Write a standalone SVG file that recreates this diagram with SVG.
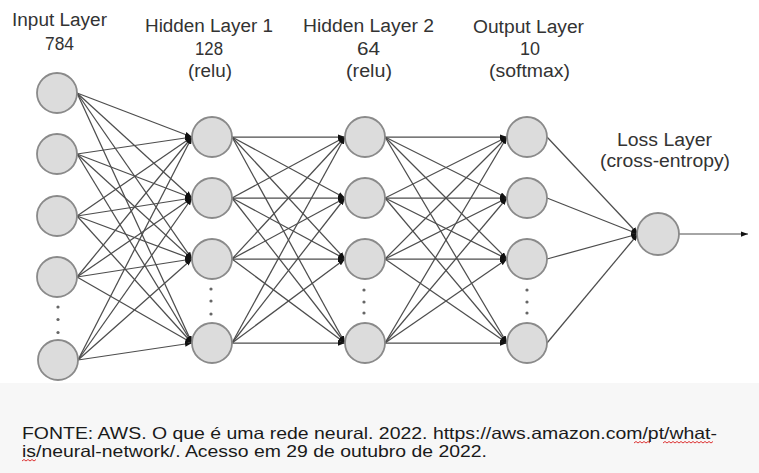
<svg xmlns="http://www.w3.org/2000/svg" width="759" height="473" viewBox="0 0 759 473">
<style>
.node{fill:#dcdcdc;stroke:#8a8a8a;stroke-width:1.8}
.edge{stroke:#4d4d4d;stroke-width:1.25;fill:none;marker-end:url(#ah)}
.lbl{font-family:"Liberation Sans",Arial,sans-serif;font-size:18px;fill:#333333;text-anchor:middle}
.dot{fill:#666}
.foot{font-family:"Liberation Sans",Arial,sans-serif;font-size:16.5px;fill:#1a1a1a}
.sq{fill:none;stroke:#d33;stroke-width:1}
</style>
<defs>
<marker id="ah" viewBox="0 0 8 6" refX="8" refY="3" markerWidth="7" markerHeight="5.5" markerUnits="userSpaceOnUse" orient="auto">
<path d="M0,0 L8,3 L0,6 z" fill="#111"/>
</marker>
</defs>
<rect x="0" y="0" width="759" height="473" fill="#ffffff"/>
<rect x="0" y="383" width="759" height="90" fill="#f7f7f7"/>

<g id="labels">
<text class="lbl" x="59.5" y="26" textLength="95" lengthAdjust="spacingAndGlyphs">Input Layer</text>
<text class="lbl" x="59.5" y="50" textLength="29" lengthAdjust="spacingAndGlyphs">784</text>
<text class="lbl" x="209" y="32" textLength="128" lengthAdjust="spacingAndGlyphs">Hidden Layer 1</text>
<text class="lbl" x="209" y="55" textLength="28" lengthAdjust="spacingAndGlyphs">128</text>
<text class="lbl" x="210" y="77" textLength="44" lengthAdjust="spacingAndGlyphs">(relu)</text>
<text class="lbl" x="368.5" y="32" textLength="131" lengthAdjust="spacingAndGlyphs">Hidden Layer 2</text>
<text class="lbl" x="368.5" y="55" textLength="23" lengthAdjust="spacingAndGlyphs">64</text>
<text class="lbl" x="369" y="77" textLength="46" lengthAdjust="spacingAndGlyphs">(relu)</text>
<text class="lbl" x="528.5" y="33" textLength="111" lengthAdjust="spacingAndGlyphs">Output Layer</text>
<text class="lbl" x="530" y="55" textLength="20" lengthAdjust="spacingAndGlyphs">10</text>
<text class="lbl" x="529.5" y="77" textLength="81" lengthAdjust="spacingAndGlyphs">(softmax)</text>
<text class="lbl" x="664.5" y="146" textLength="95" lengthAdjust="spacingAndGlyphs">Loss Layer</text>
<text class="lbl" x="665" y="167" textLength="130" lengthAdjust="spacingAndGlyphs">(cross-entropy)</text>
</g>

<g id="connectors">
<line class="edge" x1="77" y1="93" x2="192" y2="137"/>
<line class="edge" x1="77" y1="93" x2="192" y2="198"/>
<line class="edge" x1="77" y1="93" x2="192" y2="259"/>
<line class="edge" x1="77" y1="93" x2="192" y2="343"/>
<line class="edge" x1="77" y1="154" x2="192" y2="137"/>
<line class="edge" x1="77" y1="154" x2="192" y2="198"/>
<line class="edge" x1="77" y1="154" x2="192" y2="259"/>
<line class="edge" x1="77" y1="154" x2="192" y2="343"/>
<line class="edge" x1="77" y1="216" x2="192" y2="137"/>
<line class="edge" x1="77" y1="216" x2="192" y2="198"/>
<line class="edge" x1="77" y1="216" x2="192" y2="259"/>
<line class="edge" x1="77" y1="216" x2="192" y2="343"/>
<line class="edge" x1="77" y1="277" x2="192" y2="137"/>
<line class="edge" x1="77" y1="277" x2="192" y2="198"/>
<line class="edge" x1="77" y1="277" x2="192" y2="259"/>
<line class="edge" x1="77" y1="277" x2="192" y2="343"/>
<line class="edge" x1="78" y1="360" x2="192" y2="137"/>
<line class="edge" x1="78" y1="360" x2="192" y2="198"/>
<line class="edge" x1="78" y1="360" x2="192" y2="259"/>
<line class="edge" x1="78" y1="360" x2="192" y2="343"/>

<line class="edge" x1="232" y1="137" x2="345" y2="137"/>
<line class="edge" x1="232" y1="137" x2="345" y2="198"/>
<line class="edge" x1="232" y1="137" x2="345" y2="259"/>
<line class="edge" x1="232" y1="137" x2="345" y2="343"/>
<line class="edge" x1="232" y1="198" x2="345" y2="137"/>
<line class="edge" x1="232" y1="198" x2="345" y2="198"/>
<line class="edge" x1="232" y1="198" x2="345" y2="259"/>
<line class="edge" x1="232" y1="198" x2="345" y2="343"/>
<line class="edge" x1="232" y1="259" x2="345" y2="137"/>
<line class="edge" x1="232" y1="259" x2="345" y2="198"/>
<line class="edge" x1="232" y1="259" x2="345" y2="259"/>
<line class="edge" x1="232" y1="259" x2="345" y2="343"/>
<line class="edge" x1="232" y1="343" x2="345" y2="137"/>
<line class="edge" x1="232" y1="343" x2="345" y2="198"/>
<line class="edge" x1="232" y1="343" x2="345" y2="259"/>
<line class="edge" x1="232" y1="343" x2="345" y2="343"/>

<line class="edge" x1="385" y1="137" x2="507" y2="137"/>
<line class="edge" x1="385" y1="137" x2="507" y2="198"/>
<line class="edge" x1="385" y1="137" x2="507" y2="259"/>
<line class="edge" x1="385" y1="137" x2="507" y2="343"/>
<line class="edge" x1="385" y1="198" x2="507" y2="137"/>
<line class="edge" x1="385" y1="198" x2="507" y2="198"/>
<line class="edge" x1="385" y1="198" x2="507" y2="259"/>
<line class="edge" x1="385" y1="198" x2="507" y2="343"/>
<line class="edge" x1="385" y1="259" x2="507" y2="137"/>
<line class="edge" x1="385" y1="259" x2="507" y2="198"/>
<line class="edge" x1="385" y1="259" x2="507" y2="259"/>
<line class="edge" x1="385" y1="259" x2="507" y2="343"/>
<line class="edge" x1="385" y1="343" x2="507" y2="137"/>
<line class="edge" x1="385" y1="343" x2="507" y2="198"/>
<line class="edge" x1="385" y1="343" x2="507" y2="259"/>
<line class="edge" x1="385" y1="343" x2="507" y2="343"/>

<line class="edge" x1="547" y1="137" x2="638" y2="234"/>
<line class="edge" x1="547" y1="198" x2="638" y2="234"/>
<line class="edge" x1="547" y1="259" x2="638" y2="234"/>
<line class="edge" x1="547" y1="343" x2="638" y2="234"/>
<line class="edge" x1="679" y1="234" x2="748" y2="234" style="stroke-width:1"/>
</g>

<g id="input-layer">
<circle class="node" cx="57" cy="93" r="20"/>
<circle class="node" cx="57" cy="154" r="20"/>
<circle class="node" cx="57" cy="216" r="20"/>
<circle class="node" cx="57" cy="277" r="20"/>
<circle class="dot" cx="58" cy="307" r="1.6"/>
<circle class="dot" cx="58" cy="319.5" r="1.6"/>
<circle class="dot" cx="58" cy="332.5" r="1.6"/>
<circle class="node" cx="58" cy="360" r="20"/>
</g>
<g id="hidden-layer-1">
<circle class="node" cx="212" cy="137" r="20"/>
<circle class="node" cx="212" cy="198" r="20"/>
<circle class="node" cx="212" cy="259" r="20"/>
<circle class="dot" cx="211" cy="289" r="1.6"/>
<circle class="dot" cx="211" cy="301" r="1.6"/>
<circle class="dot" cx="211" cy="314" r="1.6"/>
<circle class="node" cx="212" cy="343" r="20"/>
</g>
<g id="hidden-layer-2">
<circle class="node" cx="365" cy="137" r="20"/>
<circle class="node" cx="365" cy="198" r="20"/>
<circle class="node" cx="365" cy="259" r="20"/>
<circle class="dot" cx="364" cy="290" r="1.6"/>
<circle class="dot" cx="364" cy="302" r="1.6"/>
<circle class="dot" cx="364" cy="313" r="1.6"/>
<circle class="node" cx="365" cy="343" r="20"/>
</g>
<g id="output-layer">
<circle class="node" cx="527" cy="137" r="20"/>
<circle class="node" cx="527" cy="198" r="20"/>
<circle class="node" cx="527" cy="259" r="20"/>
<circle class="dot" cx="527" cy="290" r="1.6"/>
<circle class="dot" cx="527" cy="302" r="1.6"/>
<circle class="dot" cx="527" cy="313" r="1.6"/>
<circle class="node" cx="527" cy="343" r="20"/>
</g>
<g id="loss-layer">
<circle class="node" cx="658" cy="234" r="21"/>
</g>

<g id="source">
<text class="foot" x="22" y="439" textLength="695" lengthAdjust="spacingAndGlyphs">FONTE: AWS. O que é uma rede neural. 2022. https://aws.amazon.com/pt/what-</text>
<text class="foot" x="22" y="457" textLength="465" lengthAdjust="spacingAndGlyphs">is/neural-network/. Acesso em 29 de outubro de 2022.</text>
<path class="sq" d="M634,443 l2,-1.5 l2,1.5 l2,-1.5 l2,1.5 l2,-1.5 l2,1.5 l2,-1.5 l2,1.5"/>
<path class="sq" d="M663,443 l2,-1.5 l2,1.5 l2,-1.5 l2,1.5 l2,-1.5 l2,1.5 l2,-1.5 l2,1.5 l2,-1.5 l2,1.5 l2,-1.5 l2,1.5 l2,-1.5 l2,1.5 l2,-1.5 l2,1.5 l2,-1.5 l2,1.5 l2,-1.5 l2,1.5 l2,-1.5 l2,1.5 l2,-1.5 l2,1.5 l2,-1.5"/>
<path class="sq" d="M22,461 l2,-1.5 l2,1.5 l2,-1.5 l2,1.5 l2,-1.5 l2,1.5 l2,-1.5"/>
</g>
</svg>
